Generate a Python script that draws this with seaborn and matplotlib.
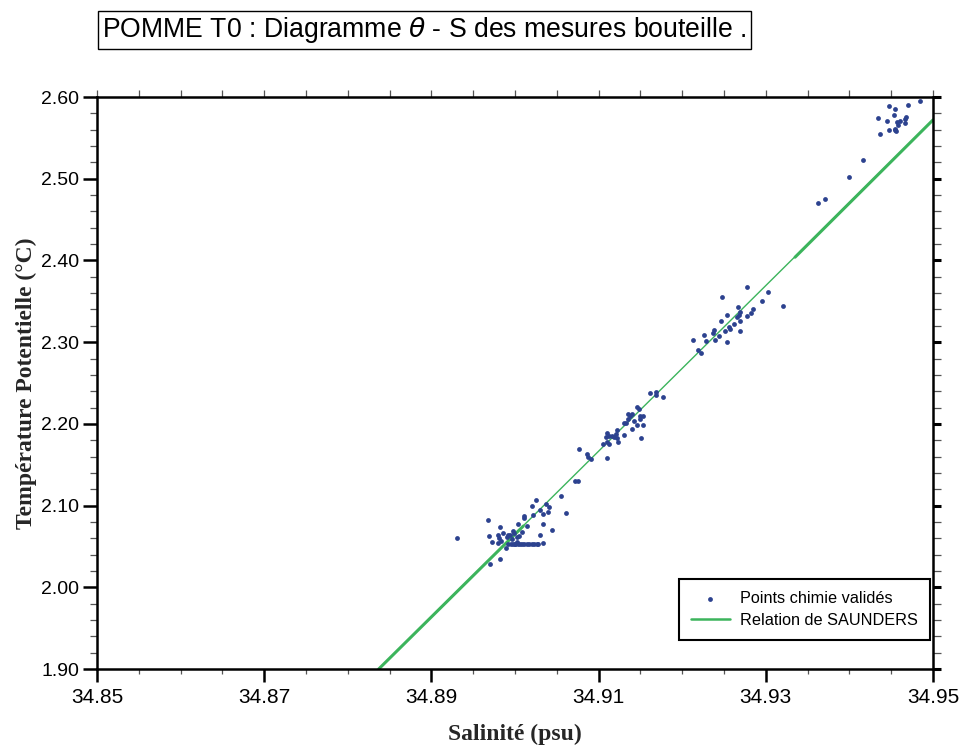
import matplotlib
matplotlib.use("Agg")
import matplotlib.pyplot as plt
import pandas as pd
import seaborn as sns
from matplotlib.ticker import MultipleLocator, FormatStrFormatter

# Bottle measurements: salinity (psu) and potential temperature (degC)
sal_points = [
    # deep, warmest group
    34.9484, 34.9470, 34.9447, 34.9454, 34.9453, 34.9434, 34.9468, 34.9467,
    34.9445, 34.9461, 34.9457, 34.9458, 34.9467, 34.9447, 34.9454, 34.9455,
    34.9456, 34.9436, 34.9416, 34.9400, 34.9371, 34.9362,
    # 2.30 - 2.37 group
    34.9277, 34.9303, 34.9248, 34.9295, 34.9321, 34.9267, 34.9285, 34.9269,
    34.9282, 34.9254, 34.9268, 34.9278, 34.9266, 34.9246, 34.9269, 34.9262,
    34.9256, 34.9257, 34.9238, 34.9251, 34.9269, 34.9237, 34.9226, 34.9244,
    34.9213, 34.9229, 34.9239, 34.9253, 34.9219, 34.9223,
    # 2.15 - 2.24 group
    34.9162, 34.9169, 34.9169, 34.9177, 34.9146, 34.9148, 34.9135, 34.9140,
    34.9137, 34.9149, 34.9153, 34.9135, 34.9149, 34.9142, 34.9130, 34.9133,
    34.9146, 34.9153, 34.9140, 34.9122, 34.9110, 34.9121, 34.9112, 34.9116,
    34.9109, 34.9118, 34.9130, 34.9122, 34.9151, 34.9123, 34.9110, 34.9105,
    34.9113, 34.9076, 34.9086, 34.9087, 34.9091, 34.9110,
    34.9072, 34.9075, 34.9061,
    # 2.03 - 2.11 group
    34.9055, 34.9025, 34.9020, 34.9037, 34.9041, 34.9030, 34.9033, 34.9040,
    34.9011, 34.9011, 34.9021, 34.8968, 34.9004, 34.9014, 34.8982, 34.9033,
    34.9044, 34.8986, 34.8998, 34.8999, 34.9008, 34.8992, 34.8994, 34.8969,
    34.8980, 34.8981, 34.9005, 34.9030, 34.8931, 34.8991, 34.9002, 34.8996,
    34.8983, 34.8973, 34.8980, 34.9002, 34.9000, 34.9034, 34.8989, 34.8982,
    34.8970,
    # samples sharing theta = 2.053
    34.8992, 34.8995, 34.8998, 34.9000, 34.9003, 34.9006, 34.9008, 34.9011,
    34.9014, 34.9017, 34.9020, 34.9023, 34.9026, 34.9028,
]
theta_points = [
    2.5955, 2.5902, 2.5886, 2.5857, 2.5776, 2.5743, 2.5752, 2.5734,
    2.5710, 2.5710, 2.5694, 2.5661, 2.5682, 2.5592, 2.5608, 2.5600,
    2.5584, 2.5551, 2.5229, 2.5025, 2.4752, 2.4699,
    2.3671, 2.3617, 2.3549, 2.3507, 2.3442, 2.3434, 2.3409, 2.3365,
    2.3353, 2.3336, 2.3328, 2.3320, 2.3304, 2.3262, 2.3259, 2.3222,
    2.3189, 2.3157, 2.3145, 2.3133, 2.3133, 2.3108, 2.3091, 2.3079,
    2.3030, 2.3014, 2.3030, 2.2998, 2.2904, 2.2867,
    2.2374, 2.2386, 2.2357, 2.2325, 2.2203, 2.2182, 2.2117, 2.2117,
    2.2096, 2.2096, 2.2096, 2.2059, 2.2056, 2.2035, 2.2007, 2.2007,
    2.1986, 2.1982, 2.1933, 2.1925, 2.1892, 2.1876, 2.1855, 2.1851,
    2.1839, 2.1839, 2.1860, 2.1831, 2.1827, 2.1782, 2.1774, 2.1750,
    2.1757, 2.1692, 2.1627, 2.1594, 2.1566, 2.1586,
    2.1301, 2.1301, 2.0909,
    2.1117, 2.1064, 2.0991, 2.1015, 2.0986, 2.0942, 2.0897, 2.0925,
    2.0872, 2.0848, 2.0881, 2.0820, 2.0778, 2.0754, 2.0738, 2.0771,
    2.0697, 2.0668, 2.0685, 2.0661, 2.0673, 2.0643, 2.0636, 2.0624,
    2.0636, 2.0607, 2.0627, 2.0636, 2.0603, 2.0615, 2.0612, 2.0587,
    2.0563, 2.0554, 2.0546, 2.0558, 2.0533, 2.0538, 2.0481, 2.0346,
    2.0285,
    2.0526, 2.0526, 2.0526, 2.0526, 2.0526, 2.0526, 2.0526, 2.0526,
    2.0526, 2.0526, 2.0526, 2.0526, 2.0526, 2.0526,
]

# Saunders theta-S relation (full span and the two heavier stretches)
saunders_sal = [34.8837, 34.9500]
saunders_theta = [1.900, 2.572]
saunders_low_sal = [34.8837, 34.9010]
saunders_low_theta = [1.900, 2.075]
saunders_high_sal = [34.9335, 34.9500]
saunders_high_theta = [2.404, 2.572]

x_ticks = [34.85, 34.87, 34.89, 34.91, 34.93, 34.95]
y_ticks = [1.90, 2.00, 2.10, 2.20, 2.30, 2.40, 2.50, 2.60]

title_text = r"POMME T0 : Diagramme $\theta$ - S des mesures bouteille ."
x_label = "Salinité (psu)"
y_label = "Température Potentielle (°C)"
points_label = "Points chimie validés"
line_label = "Relation de SAUNDERS"

sns.set_style("ticks")
plt.rcParams["font.family"] = ["Liberation Sans", "DejaVu Sans"]
plt.rcParams["mathtext.fontset"] = "dejavusans"
plt.rcParams["text.color"] = "black"
plt.rcParams["xtick.labelcolor"] = "black"
plt.rcParams["ytick.labelcolor"] = "black"

POINT_COLOR = "#2c428f"
LINE_COLOR = "#3cb45c"
SERIF = ["Liberation Serif", "DejaVu Serif"]

pts = pd.DataFrame({"sal": sal_points, "theta": theta_points})

fig = plt.figure(figsize=(9.6, 7.47), dpi=100)
ax = fig.add_axes([0.1010, 0.1044, 0.8709, 0.7657])

sns.lineplot(x=saunders_sal, y=saunders_theta, ax=ax, color=LINE_COLOR,
             linewidth=1.0, label=line_label, sort=False, zorder=2)
sns.lineplot(x=saunders_low_sal, y=saunders_low_theta, ax=ax, color=LINE_COLOR,
             linewidth=2.2, sort=False, zorder=2)
sns.lineplot(x=saunders_high_sal, y=saunders_high_theta, ax=ax, color=LINE_COLOR,
             linewidth=2.2, sort=False, zorder=2)
sns.scatterplot(data=pts, x="sal", y="theta", ax=ax, color=POINT_COLOR,
                s=12, marker="o", linewidth=0, label=points_label, zorder=3)

ax.set_xlim(34.85, 34.95)
ax.set_ylim(1.90, 2.60)

ax.set_xticks(x_ticks)
ax.set_yticks(y_ticks)
ax.xaxis.set_minor_locator(MultipleLocator(0.005))
ax.yaxis.set_minor_locator(MultipleLocator(0.02))
ax.xaxis.set_major_formatter(FormatStrFormatter("%.2f"))
ax.yaxis.set_major_formatter(FormatStrFormatter("%.2f"))

ax.tick_params(which="major", direction="out", width=1.8, color="black",
               top=False, right=False)
ax.tick_params(which="minor", direction="out", length=5, width=0.9,
               color="#555555", top=False, right=False)
ax.tick_params(axis="y", which="major", length=10, pad=3, labelsize=14)
ax.tick_params(axis="x", which="major", length=9, pad=5, labelsize=15)
ax.tick_params(axis="x", which="minor", length=3.5)

for side in ["left", "right", "top", "bottom"]:
    ax.spines[side].set_visible(True)
    ax.spines[side].set_linewidth(1.8)
    ax.spines[side].set_color("black")

# top and right frame ticks
secx = ax.secondary_xaxis("top")
secx.set_xticks(x_ticks)
secx.xaxis.set_minor_locator(MultipleLocator(0.005))
secx.tick_params(which="both", direction="out", length=5, width=0.9,
                 color="#555555", labeltop=False)
secx.spines["top"].set_visible(False)

secy = ax.secondary_yaxis("right")
secy.set_yticks(y_ticks)
secy.yaxis.set_minor_locator(MultipleLocator(0.02))
secy.tick_params(which="major", direction="out", length=6, width=2.2,
                 color="black", labelright=False)
secy.tick_params(which="minor", direction="out", length=6, width=0.9,
                 color="#555555")
secy.spines["right"].set_visible(False)

ax.set_xlabel(x_label, fontfamily=SERIF, fontweight="bold", fontsize=17)
ax.set_ylabel(y_label, fontfamily=SERIF, fontweight="bold", fontsize=17)
ax.xaxis.set_label_coords(0.5, -0.096)
ax.yaxis.set_label_coords(-0.072, 0.5)

handles, labels = ax.get_legend_handles_labels()
order = [labels.index(points_label), labels.index(line_label)]
leg = ax.legend([handles[i] for i in order], [labels[i] for i in order],
                loc="lower right", bbox_to_anchor=(0.9965, 0.051),
                borderaxespad=0, frameon=True, fancybox=False,
                fontsize=11.7, handlelength=2.4, handletextpad=0.62,
                borderpad=0.75, labelspacing=0.42, markerscale=1.0)
leg.get_frame().set_edgecolor("black")
leg.get_frame().set_linewidth(1.5)
leg.get_frame().set_alpha(1)
for h in leg.legend_handles:
    if hasattr(h, "set_linewidth") and not hasattr(h, "get_offsets"):
        h.set_linewidth(1.8)

fig.text(102 / 960, 0.960, title_text, ha="left", va="center", fontsize=19.2,
         fontfamily=["Liberation Sans", "DejaVu Sans"],
         bbox=dict(boxstyle="square,pad=0.15", facecolor="white",
                   edgecolor="black", linewidth=1.0))

fig.savefig("out.png", dpi=100, facecolor="white")
